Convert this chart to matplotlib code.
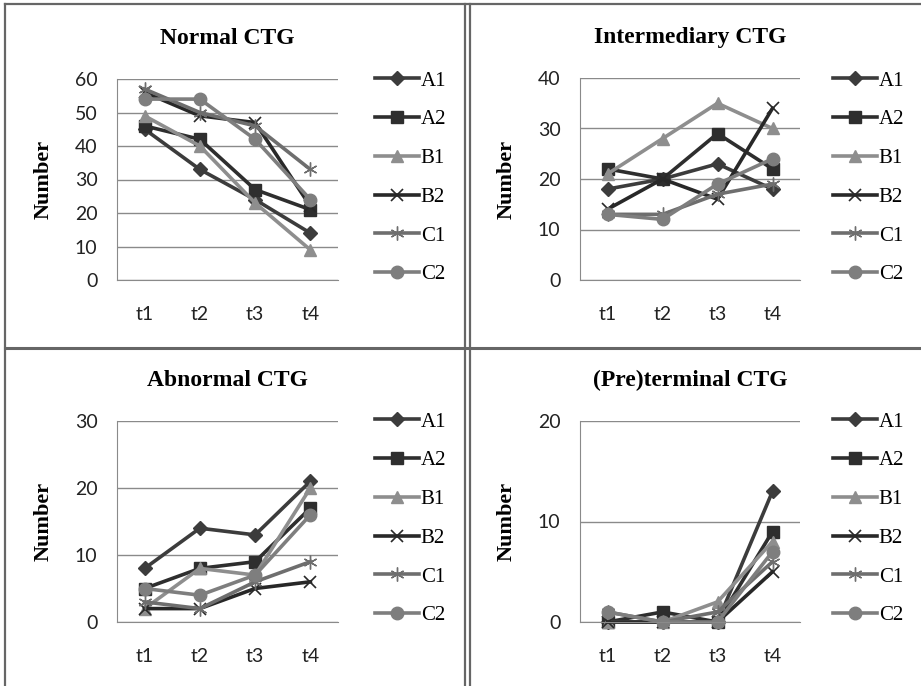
import matplotlib
matplotlib.use("Agg")
import matplotlib.pyplot as plt
from matplotlib.lines import Line2D

times = ["t1", "t2", "t3", "t4"]
groups = ["A1", "A2", "B1", "B2", "C1", "C2"]

normal = {
    "A1": [45, 33, 24, 14],
    "A2": [46, 42, 27, 21],
    "B1": [49, 40, 23, 9],
    "B2": [56, 49, 47, 22],
    "C1": [57, 50, 46, 33],
    "C2": [54, 54, 42, 24],
}
intermediary = {
    "A1": [18, 20, 23, 18],
    "A2": [22, 20, 29, 22],
    "B1": [21, 28, 35, 30],
    "B2": [14, 20, 16, 34],
    "C1": [13, 13, 17, 19],
    "C2": [13, 12, 19, 24],
}
abnormal = {
    "A1": [8, 14, 13, 21],
    "A2": [5, 8, 9, 17],
    "B1": [2, 8, 7, 20],
    "B2": [2, 2, 5, 6],
    "C1": [3, 2, 6, 9],
    "C2": [5, 4, 7, 16],
}
preterminal = {
    "A1": [0, 0, 0, 13],
    "A2": [0, 1, 0, 9],
    "B1": [0, 0, 2, 8],
    "B2": [0, 0, 0, 5],
    "C1": [1, 0, 1, 6],
    "C2": [1, 0, 0, 7],
}

styles = {
    "A1": dict(color="#3c3c3c", marker="D", ms=7),
    "A2": dict(color="#2e2e2e", marker="s", ms=9),
    "B1": dict(color="#8e8e8e", marker="^", ms=9),
    "B2": dict(color="#282828", marker="x", ms=9, mew=1.2),
    "C1": dict(color="#6e6e6e", marker=(6, 2, 0), ms=10, mew=1.0),
    "C2": dict(color="#7e7e7e", marker="o", ms=9),
}

W, H = 921, 686

def frac_rect(x0, x1, ytop, ybot):
    return [x0 / W, 1 - ybot / H, (x1 - x0) / W, (ybot - ytop) / H]

# title, data, ymax, yticks, axes box (pixels), legend anchor (pixels)
panels = [
    ("Normal CTG", normal, 60, [0, 10, 20, 30, 40, 50, 60], (117, 338, 79, 280), (375, 71)),
    ("Intermediary CTG", intermediary, 40, [0, 10, 20, 30, 40], (580, 800, 78, 280), (833, 71)),
    ("Abnormal CTG", abnormal, 30, [0, 10, 20, 30], (117, 338, 421, 622), (375, 412)),
    ("(Pre)terminal CTG", preterminal, 20, [0, 10, 20], (580, 800, 421, 622), (833, 412)),
]

fig = plt.figure(figsize=(W / 100, H / 100), dpi=100)

for title, data, ymax, yticks, box, leg in panels:
    ax = fig.add_axes(frac_rect(*box))
    x = range(len(times))
    for g in groups:
        st = styles[g]
        ax.plot(x, data[g], color=st["color"], lw=2.6, marker=st["marker"],
                ms=st["ms"], mew=st.get("mew", 1.0), label=g, clip_on=False)
    ax.set_xlim(-0.5, 3.5)
    ax.set_ylim(0, ymax)
    ax.set_yticks(yticks)
    ax.set_xticks(list(x))
    ax.set_xticklabels(times)
    ax.grid(axis="y", color="#8a8a8a", lw=1.0)
    ax.set_axisbelow(True)
    for s in ["top", "right"]:
        ax.spines[s].set_visible(False)
    ax.spines["left"].set_color("#8a8a8a")
    ax.spines["bottom"].set_color("#8a8a8a")
    ax.tick_params(length=0, labelsize=14, labelcolor="#222222")
    ax.tick_params(axis="y", pad=14)
    ax.tick_params(axis="x", pad=19)
    for lab in ax.get_xticklabels() + ax.get_yticklabels():
        lab.set_fontfamily("Lato")
    ax.set_title(title, fontsize=17, fontweight="bold", family="Liberation Serif", pad=25)
    ax.set_ylabel("Number", fontsize=16, fontweight="bold", family="Liberation Serif", labelpad=15)
    ax.legend(loc="upper left", bbox_to_anchor=(leg[0] / W, 1 - leg[1] / H),
              bbox_transform=fig.transFigure, frameon=False,
              prop=dict(family="Liberation Serif", size=15),
              handlelength=2.1, handletextpad=0.1, labelspacing=0.92,
              borderpad=0, borderaxespad=0)

# table borders around the four panels
border = dict(color="#666666", lw=1.6)
fig.add_artist(Line2D([5 / W, 5 / W], [0, 1 - 4 / H], **border))
fig.add_artist(Line2D([5 / W, 1], [1 - 4 / H, 1 - 4 / H], **border))
fig.add_artist(Line2D([465 / W, 465 / W], [0, 1 - 4 / H], **border))
fig.add_artist(Line2D([470 / W, 470 / W], [0, 1 - 4 / H], **border))
fig.add_artist(Line2D([5 / W, 1], [1 - 348 / H, 1 - 348 / H], color="#666666", lw=2.2))

fig.savefig("out.png", dpi=100, facecolor="white")
